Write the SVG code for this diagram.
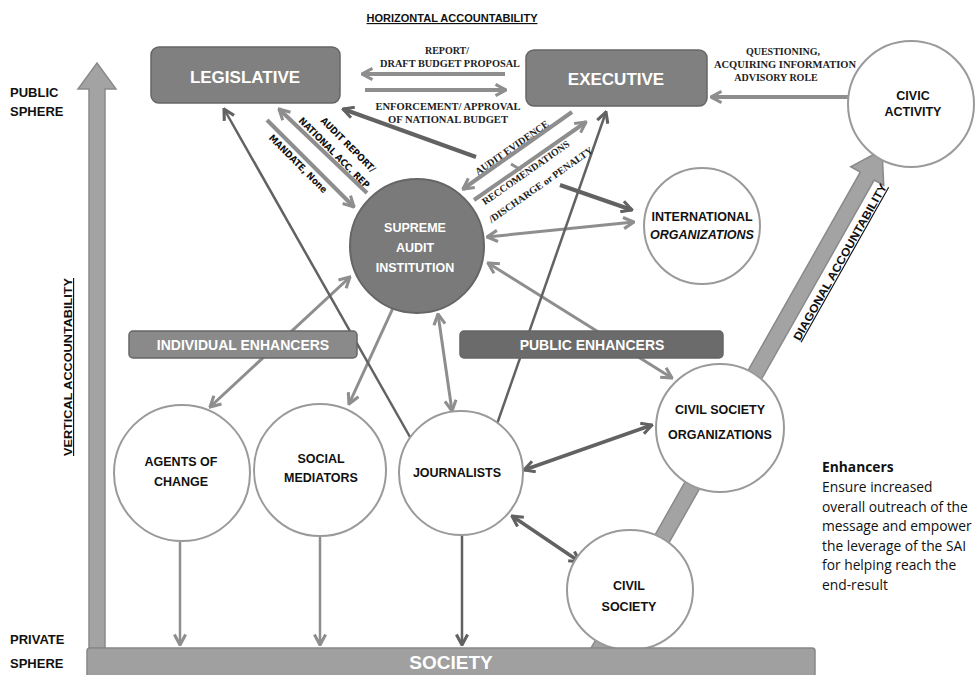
<svg xmlns="http://www.w3.org/2000/svg" width="976" height="675" viewBox="0 0 976 675">
<defs>
<style>
.box{stroke:#666;stroke-width:1.5}
.circ{fill:#fff;stroke:#9a9a9a;stroke-width:2}
.wt{font-family:"Liberation Sans",Arial,sans-serif;font-weight:bold;fill:#fff;text-anchor:middle}
.bt{font-family:"Liberation Sans",Arial,sans-serif;font-weight:bold;fill:#111;text-anchor:middle;font-size:12.5px}
.lab{font-family:"Liberation Serif","Times New Roman",serif;font-weight:bold;fill:#222;text-anchor:middle;font-size:10px}
.rl{font-family:"DejaVu Sans Condensed","DejaVu Sans",sans-serif;font-weight:bold;fill:#111;text-anchor:middle;font-size:9.5px}
.ttl{font-family:"Liberation Sans",Arial,sans-serif;font-weight:bold;fill:#111;font-size:11.5px;text-decoration:underline}
.side{font-family:"Liberation Sans",Arial,sans-serif;font-weight:bold;fill:#111;font-size:13px}
.enh{font-family:"Open Sans","Liberation Sans",sans-serif;fill:#111;font-size:13.8px}
.l{fill:none;stroke:#8e8e8e}
.d{fill:none;stroke:#626262}
</style>
<marker id="aL" viewBox="0 0 10 10" refX="9" refY="5" markerWidth="14" markerHeight="14" markerUnits="userSpaceOnUse" orient="auto-start-reverse">
<path d="M1.5,1 L9,5 L1.5,9" fill="none" stroke="#8e8e8e" stroke-width="2.2"/>
</marker>
<marker id="aD" viewBox="0 0 10 10" refX="9" refY="5" markerWidth="14" markerHeight="14" markerUnits="userSpaceOnUse" orient="auto-start-reverse">
<path d="M1.5,1 L9,5 L1.5,9" fill="none" stroke="#626262" stroke-width="2.2"/>
</marker>
</defs>
<rect width="976" height="675" fill="#fff"/>

<g id="vertical-arrow">
<path d="M89,648 L89,89 L78,89 L97,63 L116,89 L105,89 L105,648 Z" fill="#a3a3a3" stroke="#8a8a8a" stroke-width="1.5"/>
</g>
<g id="diagonal-arrow" transform="translate(882,150) rotate(-60.5)">
<path d="M-600,-8 L-30,-8 L-30,-19 L0,0 L-30,19 L-30,8 L-600,8 Z" fill="#a3a3a3" stroke="#8a8a8a" stroke-width="1.5"/>
</g>

<g id="connectors">
<line class="l" x1="505" y1="74" x2="362" y2="74" stroke-width="4" marker-end="url(#aL)"/>
<line class="l" x1="365" y1="90" x2="506" y2="90" stroke-width="4" marker-end="url(#aL)"/>
<line class="l" x1="850" y1="97" x2="711" y2="97" stroke-width="4" marker-end="url(#aL)"/>
<line class="l" x1="267" y1="120" x2="354" y2="207" stroke-width="4" marker-end="url(#aL)"/>
<line class="l" x1="367" y1="193" x2="279" y2="109" stroke-width="4" marker-end="url(#aL)"/>
<line class="d" x1="476" y1="157" x2="343" y2="109" stroke-width="4" marker-end="url(#aD)"/>
<line class="l" x1="572" y1="112" x2="463" y2="189" stroke-width="4" marker-end="url(#aL)"/>
<line class="l" x1="474" y1="200" x2="586" y2="122" stroke-width="4" marker-end="url(#aL)"/>
<line class="l" x1="511" y1="164" x2="521" y2="170" stroke-width="3"/>
<line class="d" x1="560" y1="185" x2="632" y2="210" stroke-width="4" marker-end="url(#aD)"/>
<line class="l" x1="487" y1="237" x2="634" y2="222" stroke-width="3" marker-start="url(#aL)" marker-end="url(#aL)"/>
<line class="l" x1="488" y1="263" x2="672" y2="378" stroke-width="3" marker-start="url(#aL)" marker-end="url(#aL)"/>
<line class="l" x1="350" y1="277" x2="210" y2="407" stroke-width="3" marker-start="url(#aL)" marker-end="url(#aL)"/>
<line class="l" x1="393" y1="308" x2="349" y2="404" stroke-width="3" marker-end="url(#aL)"/>
<line class="l" x1="438" y1="314" x2="452" y2="411" stroke-width="3" marker-start="url(#aL)" marker-end="url(#aL)"/>
<line class="d" x1="410" y1="437" x2="224" y2="109" stroke-width="2.5" marker-end="url(#aD)"/>
<line class="d" x1="497" y1="424" x2="606" y2="112" stroke-width="2.5" marker-end="url(#aD)"/>
<line class="d" x1="652" y1="425" x2="524" y2="470" stroke-width="3.5" marker-start="url(#aD)" marker-end="url(#aD)"/>
<line class="d" x1="512" y1="516" x2="580" y2="562" stroke-width="3.5" marker-start="url(#aD)" marker-end="url(#aD)"/>
<line class="l" x1="180" y1="542" x2="180" y2="645" stroke-width="2.5" marker-end="url(#aL)"/>
<line class="l" x1="320" y1="537" x2="320" y2="645" stroke-width="2.5" marker-end="url(#aL)"/>
<line class="d" x1="462" y1="535" x2="462" y2="645" stroke-width="2.5" marker-end="url(#aD)"/>
</g>

<g id="connector-labels">
<text class="lab" x="447" y="54">REPORT/</text>
<text class="lab" x="450" y="67" textLength="140" lengthAdjust="spacingAndGlyphs">DRAFT BUDGET PROPOSAL</text>
<text class="lab" x="448" y="110" textLength="145" lengthAdjust="spacingAndGlyphs">ENFORCEMENT/ APPROVAL</text>
<text class="lab" x="448" y="123" textLength="120" lengthAdjust="spacingAndGlyphs">OF NATIONAL BUDGET</text>
<text class="lab" x="783" y="55">QUESTIONING,</text>
<text class="lab" x="785" y="68" textLength="142" lengthAdjust="spacingAndGlyphs">ACQUIRING INFORMATION</text>
<text class="lab" x="776" y="81">ADVISORY ROLE</text>
<text class="rl" transform="translate(348,145) rotate(45)" y="3">AUDIT REPORT/</text>
<text class="rl" transform="translate(334,153) rotate(45)" y="3">NATIONAL ACC. REP</text>
<text class="rl" transform="translate(298,164) rotate(45)" y="3">MANDATE, None</text>
<text class="lab" transform="translate(512,148) rotate(-35)" y="3">AUDIT EVIDENCE</text>
<text class="lab" transform="translate(526,173) rotate(-35)" y="3">RECCOMENDATIONS</text>
<text class="lab" transform="translate(541,185) rotate(-35)" y="3">/DISCHARGE or PENALTY</text>
</g>

<g id="legislative">
<rect class="box" x="151" y="47" width="189" height="56" rx="8" fill="#808080"/>
<text class="wt" x="245" y="83" font-size="17">LEGISLATIVE</text>
</g>
<g id="executive">
<rect class="box" x="526" y="50" width="181" height="56" rx="8" fill="#808080"/>
<text class="wt" x="616" y="85" font-size="17">EXECUTIVE</text>
</g>
<g id="civic-activity">
<circle class="circ" cx="911" cy="104" r="63"/>
<text class="bt" x="913" y="100">CIVIC</text>
<text class="bt" x="913" y="116">ACTIVITY</text>
</g>
<g id="sai">
<circle cx="417" cy="246" r="67" fill="#7a7a7a" stroke="#666" stroke-width="2"/>
<text class="wt" x="415" y="232" font-size="12.5">SUPREME</text>
<text class="wt" x="415" y="252" font-size="12.5">AUDIT</text>
<text class="wt" x="415" y="272" font-size="12.5">INSTITUTION</text>
</g>
<g id="international-organizations">
<circle class="circ" cx="702" cy="226" r="58"/>
<text class="bt" x="702" y="221">INTERNATIONAL</text>
<text class="bt" x="702" y="239" font-style="italic">ORGANIZATIONS</text>
</g>
<g id="individual-enhancers">
<rect class="box" x="129" y="331" width="228" height="27" rx="4" fill="#8a8a8a"/>
<text class="wt" x="243" y="350" font-size="14">INDIVIDUAL ENHANCERS</text>
</g>
<g id="public-enhancers">
<rect class="box" x="460" y="331" width="263" height="27" rx="4" fill="#6b6b6b"/>
<text class="wt" x="592" y="350" font-size="14">PUBLIC ENHANCERS</text>
</g>
<g id="agents-of-change">
<circle class="circ" cx="182" cy="473" r="68"/>
<text class="bt" x="181" y="466">AGENTS OF</text>
<text class="bt" x="181" y="486">CHANGE</text>
</g>
<g id="social-mediators">
<circle class="circ" cx="320" cy="470" r="66"/>
<text class="bt" x="321" y="463">SOCIAL</text>
<text class="bt" x="321" y="482">MEDIATORS</text>
</g>
<g id="journalists">
<circle class="circ" cx="461" cy="473" r="62"/>
<text class="bt" x="457" y="477">JOURNALISTS</text>
</g>
<g id="civil-society-organizations">
<circle class="circ" cx="720" cy="428" r="64"/>
<text class="bt" x="720" y="414">CIVIL SOCIETY</text>
<text class="bt" x="720" y="439">ORGANIZATIONS</text>
</g>
<g id="civil-society">
<ellipse class="circ" cx="630" cy="590" rx="63" ry="60"/>
<text class="bt" x="629" y="590">CIVIL</text>
<text class="bt" x="629" y="611">SOCIETY</text>
</g>
<g id="society">
<rect x="87" y="648" width="728" height="30" rx="3" fill="#a0a0a0" stroke="#888" stroke-width="1.5"/>
<text class="wt" x="451" y="669" font-size="19" font-weight="normal">SOCIETY</text>
</g>

<g id="annotations">
<text class="ttl" x="452" y="22" text-anchor="middle" textLength="171" lengthAdjust="spacingAndGlyphs">HORIZONTAL ACCOUNTABILITY</text>
<text class="side" x="10" y="97">PUBLIC</text>
<text class="side" x="10" y="116">SPHERE</text>
<text class="side" x="10" y="644">PRIVATE</text>
<text class="side" x="10" y="668">SPHERE</text>
<text class="ttl" transform="translate(68,367) rotate(-90)" y="4" text-anchor="middle" textLength="178" lengthAdjust="spacingAndGlyphs">VERTICAL ACCOUNTABILITY</text>
<text class="ttl" transform="translate(840,262) rotate(-60.5)" y="4" text-anchor="middle" textLength="178" lengthAdjust="spacingAndGlyphs">DIAGONAL ACCOUNTABILITY</text>
<text class="enh" x="822" y="472" font-weight="bold">Enhancers</text>
<text class="enh" x="822" y="492">Ensure increased</text>
<text class="enh" x="822" y="512">overall outreach of the</text>
<text class="enh" x="822" y="531">message and empower</text>
<text class="enh" x="822" y="551">the leverage of the SAI</text>
<text class="enh" x="822" y="570">for helping reach the</text>
<text class="enh" x="822" y="590">end-result</text>
</g>
</svg>
